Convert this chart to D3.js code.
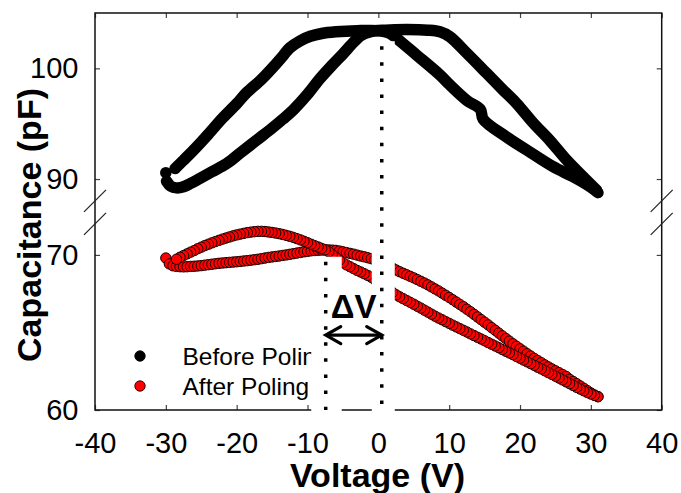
<!DOCTYPE html>
<html>
<head>
<meta charset="utf-8">
<script src="https://cdn.jsdelivr.net/npm/d3@7"></script>
<style>
body { margin: 0; background: #fff; }
svg { font-family: "Liberation Sans", Arial, sans-serif; }
</style>
</head>
<body>
<div class="container"></div>
<script>
var W = 681, H = 493;
var LEFT = 95, RIGHT = 661.7, TOP = 13, BOTTOM = 410;

// tick labels
var xTicks = [-40, -30, -20, -10, 0, 10, 20, 30, 40];
var yTicks = [60, 70, 90, 100];

// before poling: [voltage, capacitance]
var blackStart = [[-30, 90.57]];
var blackUp = [[-29.9, 89.8], [-29.3, 89.35], [-28.5, 89.2], [-27.5, 89.3], [-26.5, 89.6], [-25.2, 90.05],
  [-23.5, 90.65], [-21.4, 91.4], [-19.5, 92.35], [-17.2, 93.5], [-15, 94.6], [-13.5, 95.4], [-12, 96.25],
  [-10, 97.65], [-8.2, 99.1], [-6.5, 100.3], [-5, 101.3], [-3.5, 102.35], [-2.5, 102.95], [-1.2, 103.3],
  [1, 103.45], [4, 103.5], [7, 103.45], [8.7, 103.3], [10.1, 102.86], [12.5, 101.36], [15.3, 99.55],
  [17.6, 98.05], [19.5, 96.84], [21.9, 95.04], [24.2, 93.5], [26.6, 91.7], [28.9, 90.2], [30.8, 89.0]];
var blackDown = [[-28.7, 90.95], [-27.5, 91.7], [-26.1, 92.6], [-24.5, 93.7], [-23.8, 94.2], [-22, 95.5],
  [-20, 96.8], [-18.6, 97.8], [-16.5, 99.0], [-14.8, 100.15], [-13.5, 101.1], [-12.5, 101.85], [-11, 102.5],
  [-9.6, 102.9], [-8, 103.15], [-6, 103.3], [-3, 103.4], [0, 103.4], [1.5, 103.2], [2.6, 102.7], [5.4, 101.2],
  [8.7, 99.4], [10.1, 98.5], [12.5, 97.1], [14.4, 96.3], [14.8, 95.4], [18.1, 93.8], [21, 92.6], [24.7, 91.1],
  [27.5, 90.2], [29.9, 89.3], [31, 88.77]];

// after poling: [voltage, capacitance]
var redUp = [[-30, 69.80], [-29.5, 69.42], [-29, 69.30], [-28.5, 69.26], [-28, 69.24], [-27.5, 69.23],
  [-27, 69.24], [-26.5, 69.26], [-26, 69.27], [-25.5, 69.29], [-25, 69.31], [-24.5, 69.34], [-24, 69.37],
  [-23.5, 69.40], [-23, 69.43], [-22.5, 69.46], [-22, 69.48], [-21.5, 69.50], [-21, 69.52], [-20.5, 69.54],
  [-20, 69.56], [-19.5, 69.58], [-19, 69.61], [-18.5, 69.63], [-18, 69.66], [-17.5, 69.69], [-17, 69.72],
  [-16.5, 69.76], [-16, 69.80], [-15.5, 69.84], [-15, 69.87], [-14.5, 69.90], [-14, 69.93], [-13.5, 69.97],
  [-13, 70.00], [-12.5, 70.04], [-12, 70.08], [-11.5, 70.12], [-11, 70.16], [-10.5, 70.20], [-10, 70.23],
  [-9.5, 70.26], [-9, 70.28], [-8.5, 70.30], [-8, 70.31], [-7.5, 70.32], [-7, 70.32], [-6.5, 70.31],
  [-6, 70.29], [-5.5, 70.25], [-5, 70.20], [-4.5, 70.15], [-4, 70.10], [-3.5, 70.05], [-3, 69.99],
  [-2.5, 69.93], [-2, 69.88], [-1.5, 69.82], [-1, 69.76], [-0.5, 69.68], [0, 69.60], [0.5, 69.50],
  [1, 69.39], [1.5, 69.27], [2, 69.15], [2.5, 69.03], [3, 68.92], [3.5, 68.82], [4, 68.72], [4.5, 68.62],
  [5, 68.52], [5.5, 68.41], [6, 68.30], [6.5, 68.19], [7, 68.07], [7.5, 67.94], [8, 67.81], [8.5, 67.68],
  [9, 67.54], [9.5, 67.40], [10, 67.26], [10.5, 67.11], [11, 66.96], [11.5, 66.81], [12, 66.66],
  [12.5, 66.50], [13, 66.34], [13.5, 66.17], [14, 66.00], [14.5, 65.83], [15, 65.66], [15.5, 65.49],
  [16, 65.31], [16.5, 65.14], [17, 64.96], [17.5, 64.78], [18, 64.61], [18.5, 64.44], [19, 64.27],
  [19.5, 64.11], [20, 63.95], [20.5, 63.79], [21, 63.63], [21.5, 63.48], [22, 63.33], [22.5, 63.19],
  [23, 63.05], [23.5, 62.91], [24, 62.78], [24.5, 62.65], [25, 62.53], [25.5, 62.41], [26, 62.29],
  [26.5, 62.17], [27, 61.98], [27.5, 61.84], [28, 61.70], [28.5, 61.55], [29, 61.40], [29.5, 61.25],
  [30, 61.10], [30.5, 60.97], [31, 60.86]];
var redDown = [[-28.5, 69.72], [-28, 69.85], [-27.5, 69.96], [-27, 70.07], [-26.5, 70.18], [-26, 70.28],
  [-25.5, 70.40], [-25, 70.50], [-24.5, 70.60], [-24, 70.69], [-23.5, 70.78], [-23, 70.86], [-22.5, 70.94],
  [-22, 71.02], [-21.5, 71.09], [-21, 71.16], [-20.5, 71.23], [-20, 71.29], [-19.5, 71.34], [-19, 71.39],
  [-18.5, 71.44], [-18, 71.47], [-17.5, 71.50], [-17, 71.52], [-16.5, 71.52], [-16, 71.51], [-15.5, 71.48],
  [-15, 71.45], [-14.5, 71.41], [-14, 71.37], [-13.5, 71.32], [-13, 71.26], [-12.5, 71.20], [-12, 71.13],
  [-11.5, 71.05], [-11, 70.97], [-10.5, 70.88], [-10, 70.79], [-9.5, 70.69], [-9, 70.60], [-8.5, 70.51],
  [-8, 70.42], [-7.5, 70.33], [-7, 70.20], [-6.5, 70.02], [-6, 69.84], [-5.5, 69.66], [-5, 69.50],
  [-4.5, 69.36], [-4, 69.24], [-3.5, 69.12], [-3, 69.00], [-2.5, 68.90], [-2, 68.79], [-1.5, 68.68],
  [-1, 68.56], [-0.5, 68.40], [0, 68.24], [0.5, 68.07], [1, 67.90], [1.5, 67.74], [2, 67.58], [2.5, 67.43],
  [3, 67.30], [3.5, 67.18], [4, 67.06], [4.5, 66.94], [5, 66.82], [5.5, 66.69], [6, 66.57], [6.5, 66.44],
  [7, 66.31], [7.5, 66.18], [8, 66.05], [8.5, 65.93], [9, 65.82], [9.5, 65.70], [10, 65.59], [10.5, 65.47],
  [11, 65.36], [11.5, 65.25], [12, 65.14], [12.5, 65.03], [13, 64.91], [13.5, 64.80], [14, 64.69],
  [14.5, 64.58], [15, 64.47], [15.5, 64.35], [16, 64.24], [16.5, 64.13], [17, 64.02], [17.5, 63.90],
  [18, 63.79], [18.5, 63.68], [19, 63.57], [19.5, 63.45], [20, 63.34], [20.5, 63.22], [21, 63.11],
  [21.5, 62.99], [22, 62.88], [22.5, 62.76], [23, 62.65], [23.5, 62.53], [24, 62.41], [24.5, 62.30],
  [25, 62.18], [25.5, 62.06], [26, 61.94], [26.5, 61.82], [27, 61.70], [27.5, 61.58], [28, 61.46],
  [28.5, 61.35], [29, 61.24], [29.5, 61.13], [30, 61.03], [30.5, 60.94], [31, 60.86]].reverse();

// peak voltages marked by dotted lines, [voltage, top capacitance]
var peakMarks = [[-7.43, 69.56], [0.48, 102.0]];
var deltaV = { from: -7.43, to: 0.48, c: 64.83, label: "\u0394V", labelC: 65.92 };
var legendItems = ["Before Poling", "After Poling"];

var x = d3.scaleLinear().domain([-40, 40]).range([LEFT, RIGHT]);
// broken axis: lower segment 60-73, upper segment 87.5-105
var y = d3.scaleLinear().domain([60, 73, 87.5, 105]).range([BOTTOM, 208.4, 206.7, TOP]);

var svg = d3.select(".container").append("svg").attr("width", W).attr("height", H);

// data
var line = d3.line().x(function(d){ return x(d[0]); }).y(function(d){ return y(d[1]); })
  .curve(d3.curveCatmullRom.alpha(0.5));

[blackUp, blackDown].forEach(function(s){
  svg.append("path").attr("d", line(s)).attr("fill", "none").attr("stroke", "#000")
    .attr("stroke-width", 11.5).attr("stroke-linecap", "round").attr("stroke-linejoin", "round");
});
svg.selectAll(".bstart").data(blackStart).enter().append("circle")
  .attr("cx", function(d){ return x(d[0]); }).attr("cy", function(d){ return y(d[1]); })
  .attr("r", 5.8).attr("fill", "#000");

[redUp, redDown].forEach(function(s){
  svg.append("g").selectAll("circle").data(s).enter().append("circle")
    .attr("cx", function(d){ return x(d[0]); }).attr("cy", function(d){ return y(d[1]); })
    .attr("r", 5.2).attr("fill", "#ff0000").attr("stroke", "#1a0000").attr("stroke-width", 1);
});

// axes
var plain = function(d){ return String(d); };
var tickStyle = function(g){
  g.select(".domain").remove();
  g.selectAll(".tick line").attr("stroke", "#444").attr("stroke-width", 1.2);
  g.selectAll(".tick text").attr("font-size", 29).attr("fill", "#000")
    .attr("font-family", "'Liberation Sans', Arial, sans-serif");
};
svg.append("g").attr("transform", "translate(0," + BOTTOM + ")")
  .call(d3.axisBottom(x).tickValues(xTicks).tickSize(-5).tickPadding(22.5).tickFormat(plain))
  .call(tickStyle);
svg.append("g").attr("transform", "translate(0," + TOP + ")")
  .call(d3.axisTop(x).tickValues(xTicks).tickSize(-5).tickFormat(""))
  .call(tickStyle);
svg.append("g").attr("transform", "translate(" + LEFT + ",0)")
  .call(d3.axisLeft(y).tickValues(yTicks).tickSize(-5).tickPadding(16.5).tickFormat(plain))
  .call(tickStyle);
svg.append("g").attr("transform", "translate(" + RIGHT + ",0)")
  .call(d3.axisRight(y).tickValues(yTicks).tickSize(-5).tickFormat(""))
  .call(tickStyle);

svg.append("rect").attr("x", LEFT).attr("y", TOP).attr("width", RIGHT - LEFT).attr("height", BOTTOM - TOP)
  .attr("fill", "none").attr("stroke", "#111").attr("stroke-width", 1.5);

// axis break marks
[LEFT, RIGHT].forEach(function(ax){
  [200.8, 223.8].forEach(function(cy){
    svg.append("line").attr("x1", ax - 11).attr("y1", cy + 11).attr("x2", ax + 11).attr("y2", cy - 11)
      .attr("stroke", "#222").attr("stroke-width", 1.2);
  });
});

// legend
var legendColors = ["#000", "#ff0000"];
legendItems.forEach(function(t, i){
  svg.append("circle").attr("cx", 140).attr("cy", 356 + i * 30).attr("r", 5.2)
    .attr("fill", legendColors[i]).attr("stroke", i ? "#1a0000" : "#000").attr("stroke-width", 0.9);
  svg.append("text").attr("x", 182.5).attr("y", 365 + i * 30).attr("font-size", 24.5).text(t);
});

// white strips behind the dotted lines
svg.selectAll(".strip").data(peakMarks).enter().append("rect")
  .attr("x", function(d, i){ return x(d[0]) - (i ? 10 : 14.5); })
  .attr("width", function(d, i){ return i ? 23 : 30.5; })
  .attr("y", function(d){ return y(d[1]) - 5; })
  .attr("height", function(d){ return BOTTOM + 3 - y(d[1]) + 5; })
  .attr("fill", "#fff");

svg.selectAll(".mark").data(peakMarks).enter().append("line")
  .attr("x1", function(d){ return x(d[0]); }).attr("x2", function(d){ return x(d[0]); })
  .attr("y1", function(d){ return y(d[1]); }).attr("y2", BOTTOM)
  .attr("stroke", "#000").attr("stroke-width", 3.5).attr("stroke-dasharray", "3.5 12.6");

// delta V arrow
var ay = y(deltaV.c), ax1 = x(deltaV.from), ax2 = x(deltaV.to);
svg.append("line").attr("x1", ax1 + 1).attr("x2", ax2 - 1).attr("y1", ay).attr("y2", ay)
  .attr("stroke", "#000").attr("stroke-width", 3.2);
svg.append("path")
  .attr("d", "M" + (ax1 + 15) + "," + (ay - 8.5) + "L" + ax1 + "," + ay + "L" + (ax1 + 15) + "," + (ay + 8.5) +
    "M" + (ax2 - 15) + "," + (ay - 8.5) + "L" + ax2 + "," + ay + "L" + (ax2 - 15) + "," + (ay + 8.5))
  .attr("fill", "none").attr("stroke", "#000").attr("stroke-width", 3.2)
  .attr("stroke-linecap", "round").attr("stroke-linejoin", "miter");
svg.append("text").attr("x", (ax1 + ax2) / 2).attr("y", y(deltaV.labelC))
  .attr("text-anchor", "middle").attr("font-size", 33).attr("font-weight", "bold").text(deltaV.label);

// axis titles
svg.append("text").attr("x", 377.5).attr("y", 487).attr("text-anchor", "middle")
  .attr("font-size", 34).attr("font-weight", "bold").text("Voltage (V)");
svg.append("text").attr("transform", "translate(41,225) rotate(-90)").attr("text-anchor", "middle")
  .attr("font-size", 34).attr("font-weight", "bold").text("Capacitance (pF)");
</script>
</body>
</html>
